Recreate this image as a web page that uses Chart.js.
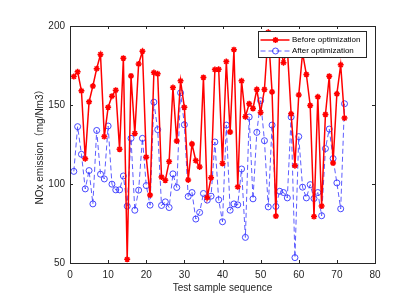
<!DOCTYPE html>
<html>
<head>
<meta charset="utf-8">
<script src="https://cdn.jsdelivr.net/npm/chart.js@4.4.0/dist/chart.umd.min.js"></script>
<style>
html,body{margin:0;padding:0;background:#fff;}
#wrap{width:412px;height:301px;}
</style>
</head>
<body>
<div id="wrap"><canvas id="nox-chart"></canvas></div>
<script>

// test sample numbers
var sampleNo = [1,2,3,4,5,6,7,8,9,10,11,12,13,14,15,16,17,18,19,20,
    21,22,23,24,25,26,27,28,29,30,31,32,33,34,35,36,37,38,39,40,
    41,42,43,44,45,46,47,48,49,50,51,52,53,54,55,56,57,58,59,60,
    61,62,63,64,65,66,67,68,69,70,71,72];

// NOx emission before optimization (mg/Nm3)
var beforeOpt = [168,171,159,116,152,162,173,182,130,148.5,155.6,159.4,122,179.6,52.3,168.4,132,176,184,117,
    93,170.5,169.7,104.4,102.3,114.2,161,127.2,165.3,148.5,102.6,125.3,114.8,110.8,167.4,91.4,104,172.4,172.6,113,
    177.5,132.9,185,98.2,165.3,142.6,150.8,147.8,159.8,145.3,159.8,196,158.3,79.7,188,176.8,186,144.4,111.6,156.4,
    183,169.3,149.7,79.4,155.2,86,144,168.2,113.3,157.1,175.4,141.7];

// NOx emission after optimization (mg/Nm3)
var afterOpt = [108,136.3,118.8,96.9,108.5,87.4,133.9,106.2,103.2,136.7,99.9,96.3,96.3,105.1,86,128.9,83.4,96.1,128.9,99,
    86.6,151.8,134.4,86.4,88.7,85.1,106.4,97.8,157.7,137.5,92.1,94.6,77.8,82,94,89.8,92.3,126.6,90,76.1,
    137.3,83.4,87.4,86.8,109.5,66.2,142.4,90.6,132.7,152.7,127.4,85.5,137.3,85.8,95.4,94.6,91.2,142.4,53.4,130,
    98,91.2,99.6,90.8,94.6,79.9,122.4,134.8,116.1,100.7,84.3,150.8];

var xTicks = [0,10,20,30,40,50,60,70,80];
var yTicks = [50,100,150,200];
var seriesNames = ["Before optimization", "After optimization"];

function toPoints(xs, ys){
    var pts = [];
    for(var i=0;i<xs.length;i++){
        pts.push({x: xs[i], y: ys[i]});
    }
    return pts;
}

var axisColor = "#262626";
var fontFamily = "'Liberation Sans', Arial, 'Noto Sans CJK SC', sans-serif";

// matlab style box, inward ticks and legend inside the axes
var matlabAxes = {
    id: "matlabAxes",
    afterDraw: function(chart){
        var ctx = chart.ctx;
        var a = chart.chartArea;
        var xs = chart.scales.x, ys = chart.scales.y;
        var tl = 3;
        ctx.save();
        ctx.strokeStyle = axisColor;
        ctx.lineWidth = 1;
        ctx.strokeRect(Math.round(a.left)+0.5, Math.round(a.top)+0.5,
            Math.round(a.right)-Math.round(a.left), Math.round(a.bottom)-Math.round(a.top));
        ctx.beginPath();
        for(var i=0;i<xTicks.length;i++){
            var px = Math.round(xs.getPixelForValue(xTicks[i]))+0.5;
            ctx.moveTo(px, a.bottom); ctx.lineTo(px, a.bottom-tl);
            ctx.moveTo(px, a.top); ctx.lineTo(px, a.top+tl);
        }
        for(var j=0;j<yTicks.length;j++){
            var py = Math.round(ys.getPixelForValue(yTicks[j]))+0.5;
            ctx.moveTo(a.left, py); ctx.lineTo(a.left+tl, py);
            ctx.moveTo(a.right, py); ctx.lineTo(a.right-tl, py);
        }
        ctx.stroke();

        // legend box
        var bx = 258.5, by = 31.5, bw = 108, bh = 26;
        ctx.fillStyle = "#fff";
        ctx.fillRect(bx, by, bw, bh);
        ctx.strokeStyle = axisColor;
        ctx.strokeRect(bx, by, bw, bh);
        ctx.font = "8px " + fontFamily;
        ctx.textBaseline = "middle";
        var rows = [by+8.5, by+19.5];
        chart.data.datasets.forEach(function(ds, k){
            var y = rows[k];
            ctx.save();
            ctx.strokeStyle = ds.borderColor;
            ctx.lineWidth = ds.borderWidth;
            ctx.setLineDash(ds.borderDash || []);
            ctx.beginPath();
            ctx.moveTo(bx+2, y); ctx.lineTo(bx+31, y);
            ctx.stroke();
            ctx.setLineDash([]);
            ctx.fillStyle = ds.backgroundColor;
            ctx.strokeStyle = ds.pointBorderColor;
            ctx.lineWidth = ds.pointBorderWidth;
            Chart.helpers.drawPoint(ctx, {
                pointStyle: ds.pointStyle,
                radius: ds.pointRadius,
                borderWidth: ds.pointBorderWidth
            }, bx+17, y);
            ctx.restore();
            ctx.fillStyle = "#000";
            ctx.fillText(ds.label, bx+33.5, y);
        });
        ctx.restore();
    }
};

var chart = new Chart(document.getElementById("nox-chart"), {
    type: "line",
    data: {
        datasets: [
            {
                label: seriesNames[0],
                data: toPoints(sampleNo, beforeOpt),
                borderColor: "#ff0000",
                backgroundColor: "#ff0000",
                borderWidth: 1.5,
                pointStyle: "star",
                pointRadius: 3,
                pointBorderWidth: 1.5,
                pointBorderColor: "#ff0000",
                fill: false,
                tension: 0
            },
            {
                label: seriesNames[1],
                data: toPoints(sampleNo, afterOpt),
                borderColor: "#3333ff",
                backgroundColor: "rgba(0,0,0,0)",
                borderWidth: 0.8,
                borderDash: [5, 3],
                pointStyle: "circle",
                pointRadius: 3,
                pointBorderWidth: 0.9,
                pointBorderColor: "#3333ff",
                fill: false,
                tension: 0
            }
        ]
    },
    options: {
        responsive: true,
        maintainAspectRatio: false,
        animation: false,
        events: [],
        layout: { padding: { top: 26, right: 37, left: 0, bottom: 0 } },
        plugins: {
            legend: { display: false },
            tooltip: { enabled: false }
        },
        scales: {
            x: {
                type: "linear",
                min: 0, max: 80,
                afterFit: function(s){ s.height = 38; },
                afterBuildTicks: function(s){ s.ticks = xTicks.map(function(v){ return {value: v}; }); },
                grid: { display: false, drawTicks: false },
                border: { display: false },
                ticks: { color: axisColor, padding: 6, maxRotation: 0, font: { size: 10, family: fontFamily } },
                title: { display: true, text: "Test sample sequence", color: axisColor,
                         font: { size: 10, family: fontFamily }, padding: { top: 0, bottom: 7 } }
            },
            y: {
                min: 50, max: 200,
                afterFit: function(s){ s.width = 70; },
                afterBuildTicks: function(s){ s.ticks = yTicks.map(function(v){ return {value: v}; }); },
                grid: { display: false, drawTicks: false },
                border: { display: false },
                ticks: { color: axisColor, padding: 5, font: { size: 10, family: fontFamily } },
                title: { display: true, text: "NOx emission（mg/Nm3）", color: axisColor,
                         font: { size: 10, family: fontFamily }, padding: { top: 34, bottom: 0 } }
            }
        }
    },
    plugins: [matlabAxes]
});

</script>
</body>
</html>
